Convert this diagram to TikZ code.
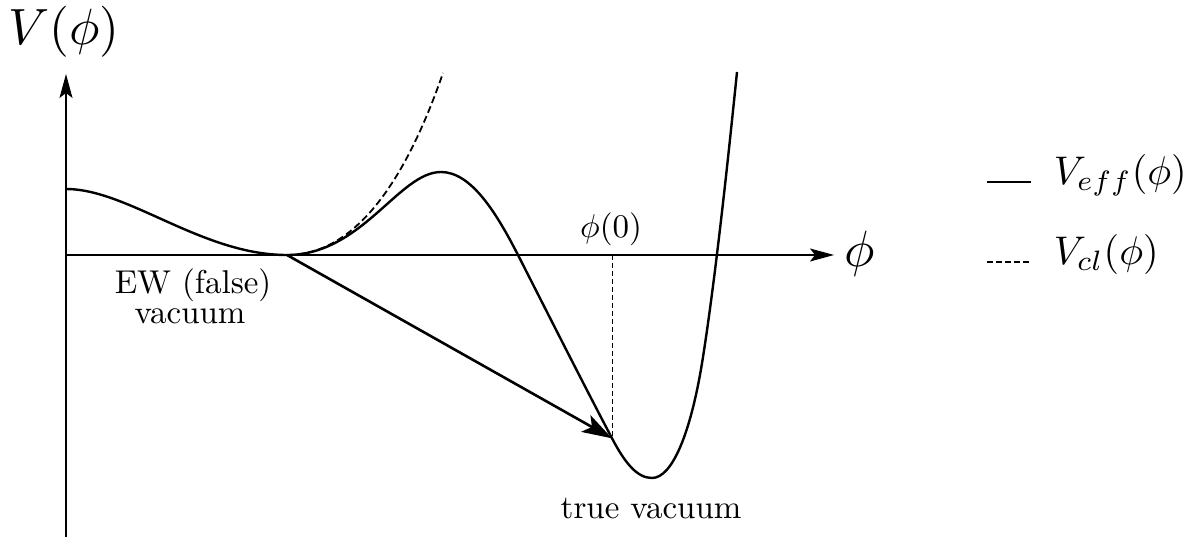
\documentclass[tikz,border=0pt]{standalone}
\usetikzlibrary{arrows.meta}
\tikzset{
 axisline/.style={line width=0.65pt, -{Stealth[length=12pt,width=6.5pt,inset=2.5pt]}},
 curve/.style={line width=1.2pt, line join=round},
 clcurve/.style={line width=0.9pt, dash pattern=on 3.5pt off 1.8pt},
 guide/.style={line width=0.5pt, dash pattern=on 2.5pt off 1.5pt},
 legdash/.style={line width=0.6pt, dash pattern=on 3pt off 1.5pt},
 tunnel/.style={line width=1.3pt, -{Stealth[length=15pt,width=9.5pt,inset=3.5pt]}},
 biglabel/.style={inner sep=0pt, font=\normalsize, scale=2.55},
 leglabel/.style={inner sep=0pt, font=\normalsize, scale=2.0},
 smalllabel/.style={inner sep=0pt, font=\normalsize, scale=1.65},
}
\begin{document}
\begin{tikzpicture}[x=0.5pt,y=-0.5pt]
\useasboundingbox (0,0) rectangle (1187,539);
% coordinates
\coordinate (o) at (66,255);
\coordinate (ybot) at (66,537);
\coordinate (ytop) at (66,74);
\coordinate (xend) at (834,255);
\coordinate (start) at (66,189);
\coordinate (ewmin) at (287,255);
\coordinate (bump) at (441,172);
\coordinate (cross) at (518,255);
\coordinate (p0) at (612,438.3);
\coordinate (truemin) at (652,478);
\coordinate (rise) at (703,357);
\coordinate (top) at (737,72);
\coordinate (cltop) at (443,73);
\coordinate (p0axis) at (612,255);
\coordinate (l1a) at (987,182);
\coordinate (l1b) at (1031,182);
\coordinate (l2a) at (987,262);
\coordinate (l2b) at (1031,262);
% axes
\draw[axisline] (ybot) -- (ytop);
\draw[axisline] (o) -- (xend);
% effective potential
\draw[curve] (start)
  .. controls (128,189) and (202,255) .. (ewmin)
  .. controls (362,255) and (399,172) .. (bump)
  .. controls (471,172) and (496,212.1) .. (cross)
  .. controls (546,310) and (582,381.3) .. (p0)
  .. controls (625,463) and (637,478) .. (truemin)
  .. controls (672,478) and (691,433.8) .. (rise)
  .. controls (715,280.2) and (727,170) .. (top);
% classical potential
\draw[clcurve] (ewmin) .. controls (352,255) and (403,188.2) .. (cltop);
% guide and tunnelling arrow
\draw[guide] (p0axis) -- (p0);
\draw[tunnel] (ewmin) -- (p0);
% labels
\node[biglabel, anchor=base] (vlab) at (64,45) {$V(\phi)$};
\node[biglabel, anchor=base] (philab) at (860,267) {$\phi$};
\node[smalllabel, anchor=base] (p0lab) at (611,237.5) {$\phi(0)$};
\node[smalllabel, anchor=base] (ew1) at (193,293.3) {EW (false)};
\node[smalllabel, anchor=base] (ew2) at (190,323.3) {vacuum};
\node[smalllabel, anchor=base] (tv) at (651,518.3) {true vacuum};
% legend
\draw[curve, line width=0.8pt] (l1a) -- (l1b);
\draw[legdash] (l2a) -- (l2b);
\node[leglabel, anchor=base west] (veff) at (1053,185) {$V_{eff}(\phi)$};
\node[leglabel, anchor=base west] (vcl) at (1053,265) {$V_{cl}(\phi)$};
\end{tikzpicture}
\end{document}
